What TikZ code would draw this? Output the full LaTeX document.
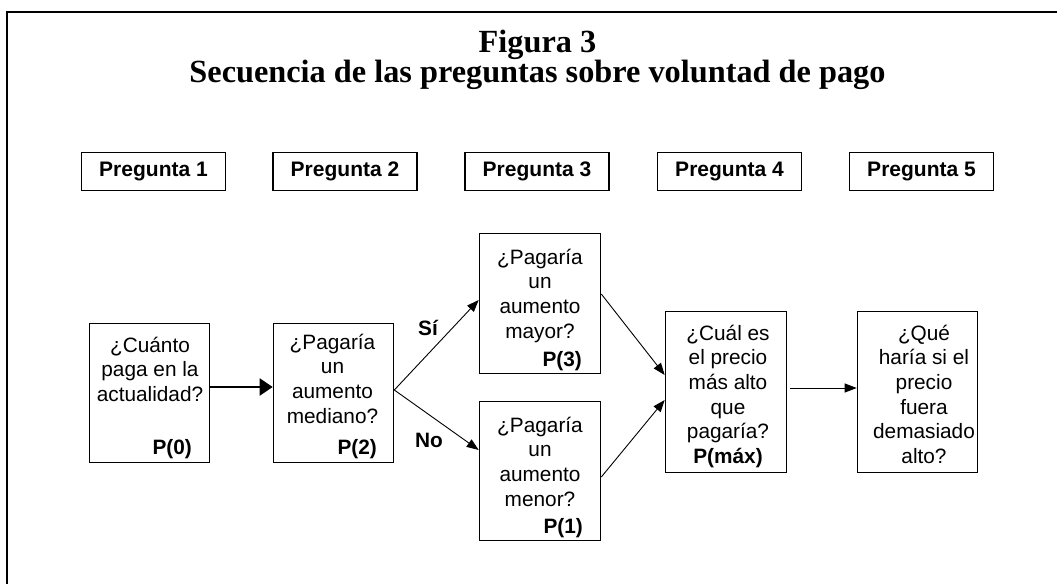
\documentclass[tikz,border=0pt]{standalone}
\usepackage{fontspec}
\setmainfont{Liberation Serif}
\newfontfamily\arial{Liberation Sans}
\usetikzlibrary{arrows.meta}
\begin{document}
\begin{tikzpicture}[x=1pt,y=-1pt,
  qbox/.style={draw, line width=1.6pt, inner sep=0pt, minimum width=120pt, minimum height=139pt},
  hbox/.style={draw, line width=1.6pt, inner sep=0pt, minimum width=144pt, minimum height=38pt,
    font=\arial\bfseries\fontsize{21}{24}\selectfont},
  qtext/.style={anchor=north, inner sep=0pt, align=center, font=\arial\fontsize{20.8}{24.6}\selectfont},
  plabel/.style={anchor=base east, inner sep=0pt, font=\arial\bfseries\fontsize{20.8}{24}\selectfont},
  blabel/.style={anchor=base west, inner sep=0pt, font=\arial\bfseries\fontsize{20.8}{24}\selectfont},
  thinarrow/.style={line width=0.9pt, -{Triangle[length=12pt,width=9pt]}},
  bigarrow/.style={line width=2pt, -{Triangle[length=13pt,width=17pt]}},
  frameline/.style={line width=2pt}
]
\useasboundingbox (0,0) rectangle (1057,584);
% frame (only top and left visible)
\coordinate (fTR) at (1057,12);
\coordinate (fTL) at (7,12);
\coordinate (fBL) at (7,584);
\draw[frameline] (fTR) -- (fTL) -- (fBL);

% title
\node[anchor=north, inner sep=0pt, align=center, font=\bfseries\fontsize{32.3}{28}\selectfont] (title) at (537.5,28)
  {\rule{0pt}{24pt}Figura 3\\Secuencia de las preguntas sobre voluntad de pago};

% header boxes
\node[hbox] (h1) at (153.5,171.5) {Pregunta 1};
\node[hbox] (h2) at (345,171.5) {Pregunta 2};
\node[hbox] (h3) at (537,171.5) {Pregunta 3};
\node[hbox] (h4) at (729.5,171.5) {Pregunta 4};
\node[hbox] (h5) at (921.5,171.5) {Pregunta 5};

% question boxes
\node[qbox] (A) at (149.5,393) {};
\node[qbox] (B) at (333.5,393) {};
\node[qbox, minimum width=121pt, minimum height=140pt] (C) at (540,303.5) {};
\node[qbox, minimum width=121pt, minimum height=139pt] (D) at (540,471) {};
\node[qbox, minimum width=121pt, minimum height=161pt] (E) at (726,392) {};
\node[qbox, minimum width=120pt, minimum height=161pt] (F) at (917.5,392) {};

% texts
\node[qtext] (tA) at (150,334) {\rule{0pt}{18pt}¿Cuánto\\paga en la\\actualidad?};
\node[qtext] (tB) at (332.5,331) {\rule{0pt}{18pt}¿Pagaría\\un\\aumento\\mediano?};
\node[qtext] (tC) at (540,246) {\rule{0pt}{18pt}¿Pagaría\\un\\aumento\\mayor?};
\node[qtext] (tD) at (540,414) {\rule{0pt}{18pt}¿Pagaría\\un\\aumento\\menor?};
\node[qtext] (tE) at (728,322) {\rule{0pt}{18pt}¿Cuál es\\el precio\\más alto\\que\\pagaría?\\\textbf{P(máx)}};
\node[qtext] (tF) at (924,322) {\rule{0pt}{18pt}¿Qué\\haría si el\\precio\\fuera\\demasiado\\alto?};
\node[plabel] (pA) at (192,454) {P(0)};
\node[plabel] (pB) at (377,454) {P(2)};
\node[plabel] (pC) at (582,366) {P(3)};
\node[plabel] (pD) at (583,533) {P(1)};

% branch labels
\node[blabel] (si) at (418,335) {Sí};
\node[blabel] (no) at (415,447) {No};

% connectors
\draw[bigarrow] ([yshift=6pt]A.east) -- ([yshift=6pt]B.west);
\draw[thinarrow] ([yshift=3pt]B.east) -- ([yshift=3.5pt]C.west);
\draw[thinarrow] ([yshift=3pt]B.east) -- ([yshift=21pt]D.west);
\draw[thinarrow] ([yshift=9.5pt]C.east) -- ([yshift=17pt]E.west);
\draw[thinarrow] ([yshift=-6pt]D.east) -- ([yshift=-8pt]E.west);
\draw[thinarrow] ([xshift=3pt,yshift=4pt]E.east) -- ([yshift=4pt]F.west);
\end{tikzpicture}
\end{document}
